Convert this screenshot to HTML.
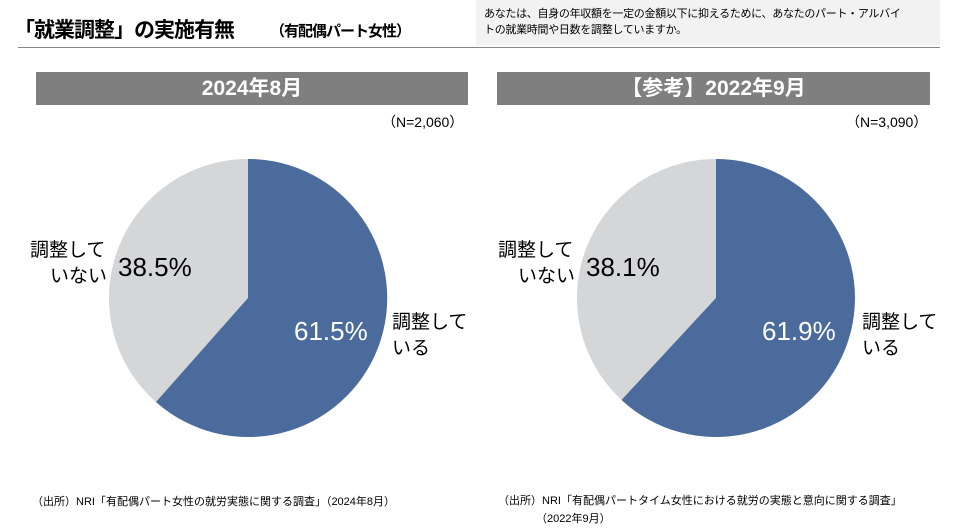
<!DOCTYPE html>
<html><head><meta charset="utf-8"><style>
body{margin:0;width:960px;height:530px;background:#fff;position:relative;overflow:hidden;font-family:"Liberation Sans","Noto Sans CJK JP",sans-serif;color:#000}
.a{position:absolute;white-space:nowrap}
.bar{position:absolute;top:72px;height:33px;background:#7f7f7f;color:#fff;font-size:21px;font-weight:bold;text-align:center;line-height:33px}
</style></head><body>
<div class="a" style="left:14px;top:14px;font-size:21px;font-weight:bold;letter-spacing:-1px">「就業調整」の実施有無</div>
<div class="a" style="left:270px;top:20px;font-size:15px;font-weight:bold;letter-spacing:-1px">（有配偶パート女性）</div>
<div class="a" style="left:476px;top:0;width:464px;height:45px;background:#f2f2f2"></div>
<div class="a" style="left:484px;top:6px;font-size:11px;line-height:16px;letter-spacing:-0.3px">あなたは、自身の年収額を一定の金額以下に抑えるために、あなたのパート・アルバイ<br>トの就業時間や日数を調整していますか。</div>
<div class="a" style="left:18px;top:47px;width:922px;height:1px;background:#888"></div>
<div class="bar" style="left:36px;width:432px">2024年8月</div>
<div class="bar" style="left:497px;width:433px">【参考】2022年9月</div>
<div class="a" style="left:382px;top:112px;font-size:14px">（N=2,060）</div>
<div class="a" style="left:846px;top:112px;font-size:14px">（N=3,090）</div>
<svg class="a" style="left:0;top:0" width="960" height="530">
<circle cx="248" cy="298" r="139" fill="#d5d6d8"/>
<path d="M248,298 L248,159 A139,139 0 1 1 156,402 Z" fill="#4a6b9b"/>
<circle cx="716" cy="298" r="139" fill="#d5d6d8"/>
<path d="M716,298 L716,159 A139,139 0 1 1 621.5,400 Z" fill="#4a6b9b"/>
</svg>
<div class="a" style="left:30px;top:238px;font-size:19px;line-height:26px">調整して</div>
<div class="a" style="left:50px;top:264px;font-size:19px;line-height:26px">いない</div>
<div class="a" style="left:118px;top:252px;font-size:26px">38.5%</div>
<div class="a" style="left:294px;top:316px;font-size:26px;color:#fff">61.5%</div>
<div class="a" style="left:392px;top:310px;font-size:19px;line-height:26px">調整して<br>いる</div>
<div class="a" style="left:498px;top:238px;font-size:19px;line-height:26px">調整して</div>
<div class="a" style="left:518px;top:264px;font-size:19px;line-height:26px">いない</div>
<div class="a" style="left:586px;top:252px;font-size:26px">38.1%</div>
<div class="a" style="left:762px;top:316px;font-size:26px;color:#fff">61.9%</div>
<div class="a" style="left:862px;top:310px;font-size:19px;line-height:26px">調整して<br>いる</div>
<div class="a" style="left:32px;top:493px;font-size:11px">（出所）NRI「有配偶パート女性の就労実態に関する調査」（2024年8月）</div>
<div class="a" style="left:498px;top:493px;font-size:11px;line-height:17px">（出所）NRI「有配偶パートタイム女性における就労の実態と意向に関する調査」</div>
<div class="a" style="left:536px;top:510px;font-size:11px">（2022年9月）</div>
</body></html>
